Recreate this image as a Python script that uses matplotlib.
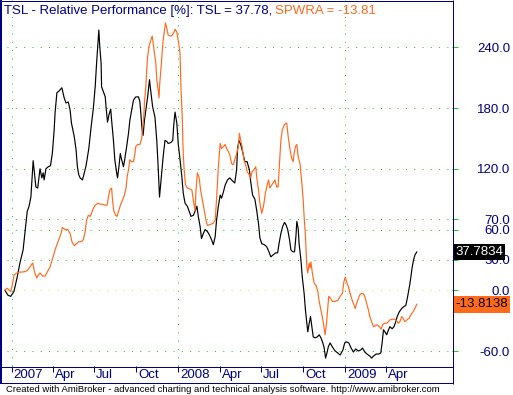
import matplotlib
matplotlib.use('Agg')
import matplotlib.pyplot as plt
from matplotlib.lines import Line2D
from matplotlib import transforms

plt.rcParams['font.family'] = ['Liberation Sans', 'DejaVu Sans']

# ---------------- data (x = calendar days since 2007-01-01) ----------------
tsl_day = [-15, -8, -2, 5, 12, 18, 25, 29, 34, 38,
           42, 47, 53, 57, 62, 66, 69, 71, 75, 80,
           85, 89, 93, 95, 99, 104, 110, 115, 119, 124,
           128, 131, 137, 141, 144, 147, 150, 155, 158, 163,
           169, 174, 179, 183, 186, 189, 191, 193, 196, 197,
           201, 205, 207, 210, 213, 217, 219, 223, 226, 230,
           232, 235, 238, 241, 245, 248, 252, 256, 259, 263,
           267, 272, 278, 281, 283, 286, 288, 291, 294, 298,
           302, 305, 309, 314, 318, 321, 324, 326, 329, 332,
           336, 340, 343, 349, 353, 355, 358, 362, 365, 369,
           373, 376, 380, 385, 389, 393, 398, 402, 406, 409,
           413, 416, 420, 424, 429, 433, 438, 442, 446, 449,
           453, 457, 460, 464, 468, 473, 478, 484, 489, 493,
           495, 498, 502, 506, 511, 516, 521, 524, 528, 533,
           537, 541, 544, 548, 554, 559, 564, 568, 573, 579,
           583, 586, 590, 594, 598, 601, 605, 609, 612, 616,
           620, 623, 625, 628, 630, 634, 637, 641, 644, 647,
           649, 652, 655, 658, 661, 665, 670, 674, 678, 682,
           685, 688, 691, 694, 698, 703, 709, 715, 720, 726,
           730, 734, 739, 744, 749, 754, 760, 765, 769, 774,
           779, 785, 789, 793, 799, 804, 809, 812, 815, 818,
           822, 826, 829, 834, 838, 842, 845, 850, 855, 860,
           864, 868, 872, 875, 878, 881, 884, 888]
tsl_val = [0, -5, -6, -1, 13, 27, 40, 57, 78, 83,
           92, 128, 102, 101, 120, 111, 116, 109, 120, 122,
           123, 135, 158, 175, 195, 197, 200, 190, 185, 186,
           178, 165, 152, 139, 122, 114, 111, 109, 114, 123,
           140, 161, 180, 201, 224, 244, 257, 241, 224, 201,
           196, 191, 180, 166, 173, 179, 168, 148, 129, 116,
           111, 122, 135, 129, 122, 130, 142, 155, 168, 178,
           188, 191, 191, 186, 175, 158, 153, 168, 178, 191,
           208, 196, 181, 171, 148, 122, 92, 102, 116, 132,
           148, 147, 145, 146, 148, 162, 176, 165, 145, 129,
           112, 96, 86, 83, 78, 73, 74, 78, 83, 73,
           63, 51, 56, 60, 58, 55, 50, 45, 53, 69,
           83, 94, 91, 97, 104, 109, 111, 108, 106, 119,
           139, 148, 144, 137, 127, 127, 119, 107, 94, 90,
           79, 66, 52, 46, 45, 43, 38, 33, 35, 37,
           37, 46, 56, 63, 67, 65, 60, 50, 40, 38,
           38, 53, 68, 61, 46, 30, 13, -3, -20, -33,
           -41, -33, -26, -36, -46, -47, -46, -44, -47, -52,
           -57, -67, -62, -56, -52, -56, -60, -62, -64, -59,
           -52, -51, -52, -57, -61, -58, -60, -59, -57, -61,
           -63, -65, -67, -65, -63, -63, -62, -52, -39, -41,
           -44, -39, -36, -38, -36, -31, -26, -21, -18, -16,
           -15, -6, 4, 13, 23, 30, 35, 37.78]

spwra_day = [-15, -10, -5, -2, 2, 5, 11, 17, 22, 29,
             34, 40, 46, 50, 55, 58, 62, 68, 73, 78,
             84, 90, 95, 100, 104, 108, 111, 117, 123, 128,
             132, 137, 142, 147, 153, 157, 161, 164, 168, 172,
             175, 179, 183, 189, 194, 199, 205, 209, 212, 215,
             219, 221, 224, 228, 231, 235, 239, 243, 247, 251,
             253, 256, 259, 263, 267, 270, 272, 276, 281, 285,
             287, 289, 291, 294, 296, 298, 301, 305, 308, 310,
             313, 316, 318, 321, 323, 324, 327, 330, 332, 335,
             337, 340, 343, 348, 352, 356, 358, 362, 365, 369,
             371, 374, 376, 378, 381, 385, 391, 395, 398, 402,
             404, 407, 411, 414, 418, 422, 426, 429, 435, 441,
             446, 449, 453, 457, 460, 464, 468, 471, 475, 478,
             482, 486, 489, 493, 497, 499, 502, 505, 509, 514,
             516, 521, 524, 527, 531, 535, 537, 541, 544, 548,
             552, 556, 559, 563, 566, 570, 573, 577, 581, 584,
             587, 590, 593, 597, 601, 603, 606, 610, 614, 617,
             619, 622, 625, 628, 632, 636, 639, 641, 644, 647,
             649, 652, 654, 656, 659, 663, 667, 671, 674, 678,
             682, 685, 687, 690, 693, 695, 699, 703, 709, 715,
             720, 725, 728, 731, 734, 738, 742, 745, 749, 753,
             756, 760, 763, 767, 771, 774, 778, 782, 785, 789,
             793, 797, 801, 806, 810, 813, 817, 822, 826, 829,
             834, 840, 844, 847, 851, 855, 858, 862, 866, 871,
             875, 880, 884, 888]
spwra_val = [0, 2, 0, -1.4, 7, 15, 17, 18, 18, 18.4,
             19.4, 23, 27, 18, 12, 15, 17, 14, 14, 18,
             23, 32, 40, 46, 51, 56, 62, 60, 60, 56,
             48, 44, 46, 48, 48, 50, 58, 69, 74, 73,
             76, 81, 84, 86, 85, 85, 84, 84, 92, 99,
             101, 89, 78, 74, 73, 79, 85, 89, 94, 102,
             112, 119, 129, 127, 127, 135, 142, 144, 144, 150,
             162, 168, 185, 201, 218, 231, 241, 247, 251, 244,
             234, 224, 208, 198, 190, 201, 218, 234, 247, 257,
             264, 259, 252, 251, 252, 255, 258, 255, 247, 234,
             201, 168, 135, 119, 104, 101, 100, 99, 89, 79,
             99, 116, 111, 99, 89, 79, 69, 64, 65, 66,
             69, 89, 122, 145, 140, 142, 144, 140, 137, 134,
             125, 124, 129, 135, 142, 155, 148, 142, 129, 122,
             117, 114, 111, 117, 119, 122, 112, 99, 86, 76,
             83, 96, 102, 109, 101, 104, 106, 109, 102, 102,
             125, 148, 158, 163, 165, 165, 152, 139, 130, 127,
             135, 142, 144, 132, 125, 106, 89, 73, 53, 23,
             17, 27, 22, 28, 17, 7, 5, -1, -11, -20,
             -29, -38, -44, -33, -16, -6, -8, -11, -11, -10,
             -6, -3, 8, 13, 8.5, 3.6, -3, -8, -13, -18,
             -13, -8, -4.6, -3, -3.7, -6, -13, -19.5, -26, -31,
             -36, -35, -34, -36, -38.5, -34, -32.6, -32.6, -31, -29.3,
             -28.6, -28.6, -30, -32.6, -31, -26, -27.7, -31, -29.3, -27.7,
             -24.4, -21, -17.8, -13.81]

tick_days = [0, 90, 181, 273, 365, 456, 547, 639, 731, 821]
tick_labels = ['2007', 'Apr', 'Jul', 'Oct', '2008', 'Apr', 'Jul', 'Oct', '2009', 'Apr']
year_days = [0, 365, 731]
y_ticks = [-60, 0, 30, 60, 70, 120, 180, 240]
tsl_last = 37.7834
spwra_last = -13.8138
title_main = 'TSL - Relative Performance [%]: TSL = 37.78, '
title_second = 'SPWRA = -13.81'
footer = ('Created with AmiBroker - advanced charting and technical analysis '
          'software. http://www.amibroker.com')

# ---------------- styling ----------------
NAVY = '#000080'
GREEN = '#22c422'
YELLOW = '#e8e800'
ORANGE = '#ff6a1c'
PX = 0.72  # one pixel in points at dpi 100

W, H = 513, 395
fig = plt.figure(figsize=(W / 100, H / 100), dpi=100)
fig.patch.set_facecolor('white')


def fx(px):
    return px / W


def fy(py):
    return 1 - py / H


ax = fig.add_axes([fx(2), fy(366), fx(452) - fx(2), fy(0) - fy(366)])
ax.set_xlim(-21.3, 965.2)
ax.set_ylim(-74.8, 286.7)
for s in ax.spines.values():
    s.set_visible(False)
ax.set_facecolor('white')

dots = (0, (1, 7.3))
for v in y_ticks:
    ax.axhline(v, xmin=0.01, xmax=0.995, color=(YELLOW if v == 0 else GREEN),
               lw=PX * 1.0, linestyle=dots, zorder=1)
for d in year_days:
    ax.axvline(d, color=GREEN, lw=PX, linestyle=dots, zorder=1)

ax.plot(tsl_day, tsl_val, color='black', lw=0.85, zorder=3)
ax.plot(spwra_day, spwra_val, color=ORANGE, lw=0.85, zorder=4)

# right axis ticks/labels
ax.yaxis.tick_right()
ax.set_yticks(y_ticks)
ax.set_yticklabels([f'{v:.1f}' for v in y_ticks])
ax.tick_params(axis='y', which='major', length=6 * PX, width=PX, color=GREEN,
               labelcolor=NAVY, labelsize=9.5, pad=52 * PX)
for t, v in zip(ax.yaxis.get_major_ticks(), y_ticks):
    t.label2.set_horizontalalignment('right')
    if v == 0:
        t.tick2line.set_color(YELLOW)

# bottom date axis
ax.set_xticks(tick_days)
ax.set_xticklabels(tick_labels)
ax.tick_params(axis='x', which='major', length=6 * PX, width=PX, color=NAVY,
               labelcolor=NAVY, labelsize=9.5, pad=-2.5, direction='out')
shift = transforms.ScaledTranslation(2 / 100, 0, fig.dpi_scale_trans)
for t in ax.xaxis.get_major_ticks():
    t.label1.set_horizontalalignment('left')
    t.label1.set_transform(t.label1.get_transform() + shift)

# value boxes on right axis
blend = transforms.blended_transform_factory(fig.transFigure, ax.transData)
ax.text(fx(455), tsl_last, f'{tsl_last:.4f}', transform=blend, color='white',
        fontsize=9.5, ha='left', va='center', clip_on=False, zorder=10,
        bbox=dict(boxstyle='square,pad=0.18', fc='black', ec='none'))
ax.text(fx(455), spwra_last, f'{spwra_last:.4f}', transform=blend, color='black',
        fontsize=9.5, ha='left', va='center', clip_on=False, zorder=10,
        bbox=dict(boxstyle='square,pad=0.18', fc=ORANGE, ec='none'))


# frame lines
def fline(x0, y0, x1, y1, lw=PX):
    fig.add_artist(Line2D([fx(x0), fx(x1)], [fy(y0), fy(y1)],
                          transform=fig.transFigure, color=NAVY, lw=lw,
                          solid_capstyle='butt', zorder=20))


fline(0, 0.5, 452.5, 0.5)
fline(1, 0, 1, 383.5, lw=2 * PX)
fline(452.5, 0, 452.5, 383.5)
fline(0, 366.5, 452.5, 366.5)
fline(0, 383, 452.5, 383)

# title
t1 = fig.text(fx(3.5), fy(14), title_main, color=NAVY, fontsize=9.5,
              ha='left', va='baseline', zorder=15)
ax.annotate(title_second, xy=(1, 0), xycoords=t1, color=ORANGE, fontsize=9.5,
            ha='left', va='bottom', annotation_clip=False, zorder=15)

# footer
fig.text(fx(6), fy(392.5), footer, color='black', fontsize=6.8,
         ha='left', va='baseline')

fig.savefig('out.png', dpi=100, facecolor='white')
